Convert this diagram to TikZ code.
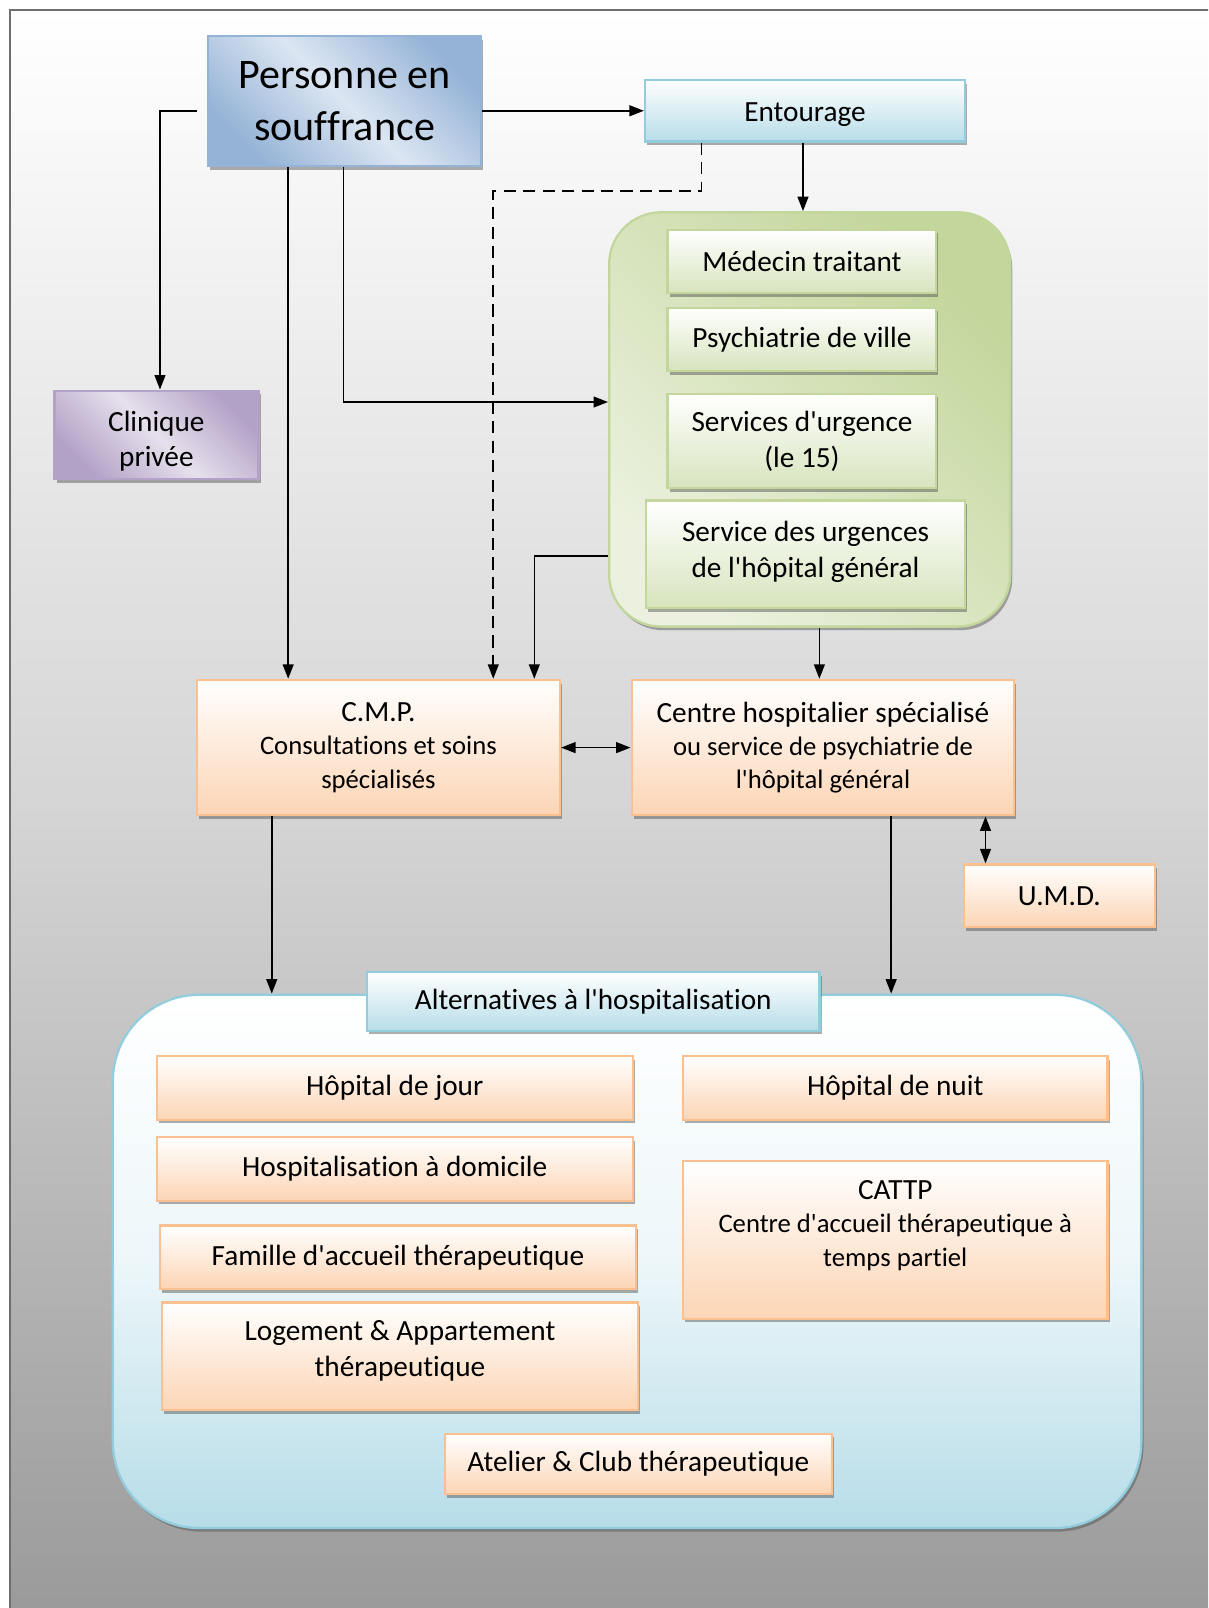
\documentclass[tikz,border=0pt]{standalone}
\usepackage{fontspec}
\setmainfont{Carlito}[Ligatures={TeXOff,NoCommon}]
\usetikzlibrary{arrows.meta,shadows}
\definecolor{bgray}{HTML}{999999}
\definecolor{bmid}{HTML}{D4D4D4}
\definecolor{frameC}{HTML}{6E6E6E}
\definecolor{blueD}{HTML}{95B3D7}
\definecolor{blueL}{HTML}{DCE6F2}
\definecolor{cyanF}{HTML}{B7DDE8}
\definecolor{cyanB}{HTML}{93CDDD}
\definecolor{purD}{HTML}{B3A2C7}
\definecolor{purL}{HTML}{E6E0EC}
\definecolor{greD}{HTML}{C3D69B}
\definecolor{greL}{HTML}{EBF1DE}
\definecolor{greF}{HTML}{D7E4BD}
\definecolor{oraF}{HTML}{FCD5B5}
\definecolor{oraB}{HTML}{FAC090}
\def\px{0.025cm}
\newcommand{\bigln}[1]{{\fontsize{20.3}{24.9}\selectfont #1}}
\newcommand{\lowr}[2]{\raisebox{-#1}[\height][\depth]{#2}}
\begin{document}
\begin{tikzpicture}[x=0.025cm, y=-0.025cm,
  every node/.style={align=center, inner sep=0pt},
  base/.style={draw, line width=1.6pt,
    drop shadow={shadow xshift=1.5pt, shadow yshift=-2.5pt, fill=black!70, opacity=0.45}},
  fN/.style={font=\fontsize{20.3}{24.9}\selectfont},
  fS/.style={font=\fontsize{18.5}{23.2}\selectfont},
  wh/.style 2 args={minimum width=#1*\px, minimum height=#2*\px},
  orabox/.style={base, draw=oraB, top color=white, bottom color=oraF, fN},
  grebox/.style={base, draw=greD, top color=white, bottom color=greF, fN},
  cyanbox/.style={base, draw=cyanB, top color=white, bottom color=cyanF, fN},
  tipA/.tip={Triangle[length=10pt,width=7.5pt]},
  arr/.style={line width=1.1pt, -tipA},
  darr/.style={line width=1.1pt, tipA-tipA}]
\useasboundingbox (0,0) rectangle (1178,1568);
\clip (0,0) rectangle (1178,1568);
\fill[white] (0,0) rectangle (1178,1568);
\shade[top color=white, bottom color=bgray, middle color=bmid] (10,10) rectangle (1200,1590);
\draw[frameC, line width=1.5pt] (10,10) rectangle (1200,1590);

% containers
\node[base, draw=greD, top color=greD, bottom color=greL, shading angle=-45,
  rounded corners=36pt, wh={391}{404}] (gc) at (789.5,409) {};
\node[base, draw=cyanB, top color=white, bottom color=cyanF, middle color=white!75!cyanF,
  rounded corners=60pt, wh={1003}{520}] (ac) at (611.5,1230) {};

% top boxes
\node[base, draw=blueD, top color=blueD, bottom color=blueD, middle color=blueL, shading angle=-45,
  wh={266}{127}, font=\fontsize{29.2}{36.3}\selectfont] (pers) at (336,98.5) {Personne en\\souffrance};
\node[cyanbox, wh={312}{60}] (ent) at (785,108) {\lowr{2.5pt}{Entourage}};
\node[base, draw=purD, top color=purD, bottom color=purD, middle color=purL, shading angle=-45,
  wh={199}{86}, font=\fontsize{20.3}{24.2}\selectfont] (clin) at (152.5,424) {\lowr{4.5pt}{Clinique}\\\lowr{4.5pt}{privée}};

% green boxes
\node[grebox, wh={262}{62}] (med) at (782,255) {Médecin traitant};
\node[grebox, wh={262}{62}] (psy) at (782,331) {Psychiatrie de ville};
\node[grebox, wh={262}{92}] (surg) at (782,430) {Services d'urgence\\(le 15)};
\node[grebox, wh={311}{105}] (sug) at (785.5,540.5) {\raisebox{2pt}[\height][\depth]{Service des urgences}\\\raisebox{2pt}[\height][\depth]{de l'hôpital général}};

% middle boxes
\node[orabox, fS, wh={354}{132}] (cmp) at (369,729) {\bigln{C.M.P.}\\Consultations et soins\\spécialisés};
\node[orabox, fS, wh={373}{132}] (chs) at (802.5,729) {\bigln{Centre hospitalier spécialisé}\\ou service de psychiatrie de\\l'hôpital général};
\node[orabox, wh={186}{61}] (umd) at (1033,873.5) {U.M.D.};

% alternatives
\node[cyanbox, wh={441}{57}] (altlab) at (578.5,976.5) {Alternatives à l'hospitalisation};
\node[orabox, wh={464}{62}] (hj) at (385,1061) {Hôpital de jour};
\node[orabox, wh={464}{62}] (hd) at (385,1140) {Hospitalisation à domicile};
\node[orabox, wh={464}{62}] (fam) at (388,1226) {Famille d'accueil thérapeutique};
\node[orabox, wh={464}{105}] (log) at (390,1322.5) {Logement \& Appartement\\thérapeutique\\[-14pt]\mbox{}};
\node[orabox, wh={414}{62}] (hn) at (873,1061) {Hôpital de nuit};
\node[orabox, fS, wh={414}{154}] (cattp) at (873,1209) {\bigln{CATTP}\\Centre d'accueil thérapeutique à\\temps partiel\\\mbox{}};
\node[orabox, wh={377}{59}] (atel) at (622.5,1427.5) {Atelier \& Club thérapeutique};

% connectors
\draw[arr] ([shift={(-10,9.5)}]pers.west) -| (156,0 |- clin.north);
\draw[arr] (pers.east |- ent.west) -- (ent.west);
\draw[arr] (281,0 |- pers.south) -- (281,0 |- cmp.north);
\draw[arr] (335,0 |- pers.south) |- (gc.west |- 0,392);
\draw[arr] (783,0 |- ent.south) -- (783,0 |- gc.north);
\draw[arr, dash pattern=on 8.5pt off 5pt] (684,0 |- ent.south) -- (684,186) -| (481,0 |- cmp.north);
\draw[arr] (gc.west |- 0,542) -| (521,0 |- cmp.north);
\draw[arr] (799,0 |- gc.south) -- (799,0 |- chs.north);
\draw[darr] (cmp.east) -- (chs.west);
\draw[darr] (961,0 |- chs.south) -- (961,0 |- umd.north);
\draw[arr] (265,0 |- cmp.south) -- (265,0 |- ac.north);
\draw[arr] (869,0 |- chs.south) -- (869,0 |- ac.north);
\end{tikzpicture}
\end{document}
